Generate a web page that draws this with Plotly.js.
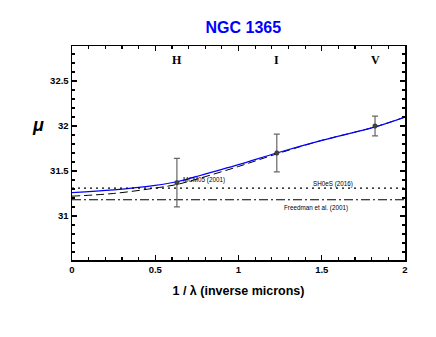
<!DOCTYPE html>
<html>
<head>
<meta charset="utf-8">
<script src="https://cdn.plot.ly/plotly-3.0.1.min.js"></script>
<style>
  html, body { margin: 0; padding: 0; background: #fff; }
  #chart { width: 436px; height: 337px; }
</style>
</head>
<body>
<div id="chart"></div>
<script>
// measured distance moduli per band
const bandNames = ["H", "I", "V"];
const invLambda = [0.63, 1.23, 1.82];
const mu = [31.37, 31.70, 32.00];
const muErr = [0.27, 0.21, 0.11];

// fitted extinction curves
const fitX = [0, 0.25, 0.5, 0.63, 0.75, 1.0, 1.23, 1.5, 1.82, 2.0];
const fitBlue = [31.26, 31.29, 31.34, 31.38, 31.44, 31.57, 31.70, 31.84, 31.99, 32.10];
const fitDashed = [31.22, 31.25, 31.31, 31.35, 31.41, 31.55, 31.69, 31.84, 31.99, 32.10];

// reference distances
const sh0esMu = 31.31;
const freedmanMu = 31.18;

const xRange = [0, 2];
const yRange = [30.51, 32.89];

const traces = [
  {
    x: fitX, y: fitDashed, mode: "lines", type: "scatter",
    line: { color: "#000", width: 1, dash: "8px,4px", shape: "spline" },
    hoverinfo: "skip"
  },
  {
    x: fitX, y: fitBlue, mode: "lines", type: "scatter",
    line: { color: "#0000ff", width: 1.2, shape: "spline" },
    hoverinfo: "skip"
  },
  {
    x: xRange, y: [sh0esMu, sh0esMu], mode: "lines", type: "scatter",
    line: { color: "#000", width: 1.2, dash: "2px,4px" }
  },
  {
    x: xRange, y: [freedmanMu, freedmanMu], mode: "lines", type: "scatter",
    line: { color: "#000", width: 1.2, dash: "9px,3px,2px,3px" }
  },
  {
    x: invLambda, y: mu, mode: "markers", type: "scatter",
    marker: { color: "#444", size: 4.5, line: { color: "#222", width: 0.5 } },
    error_y: { type: "data", array: muErr, visible: true, color: "#666", thickness: 1.2, width: 3 }
  }
];

const small = { family: "Liberation Sans, Arial", size: 6.3, color: "#000" };

const annotations = bandNames.map((b, i) => ({
  x: invLambda[i], y: 32.73, text: b, showarrow: false,
  font: { family: "Liberation Serif, Times New Roman", size: 12, color: "#000", weight: "bold" }
}));
annotations.push(
  { x: 1.57, y: 31.355, text: "SH0eS (2016)", showarrow: false, font: small },
  { x: 1.465, y: 31.09, text: "Freedman et al. (2001)", showarrow: false, font: small },
  { x: 0.655, y: 31.405, xanchor: "left", text: "MCM05 (2001)", showarrow: false, font: small },
  {
    xref: "paper", yref: "paper", x: -0.126, y: 0.687, text: "<i>μ</i>", showarrow: false,
    font: { family: "Liberation Sans, Arial", size: 18, color: "#000", weight: "bold" }
  }
);

const tickFont = { family: "Liberation Sans, Arial", size: 9.5, color: "#000", weight: "bold" };

Plotly.newPlot("chart", traces, {
  width: 436,
  height: 337,
  showlegend: false,
  paper_bgcolor: "#fff",
  plot_bgcolor: "#fff",
  margin: { l: 72, r: 31, t: 46, b: 77 },
  title: {
    text: "NGC 1365",
    x: 0.558, xanchor: "center", y: 0.92, yanchor: "middle",
    font: { family: "Liberation Sans, Arial", size: 16, color: "#0000ff", weight: "bold" }
  },
  xaxis: {
    range: xRange,
    tickvals: [0, 0.5, 1, 1.5, 2],
    ticktext: ["0", "0.5", "1", "1.5", "2"],
    ticks: "inside", ticklen: 5, tickwidth: 1.2, tickcolor: "#000",
    minor: { dtick: 0.1, ticks: "inside", ticklen: 3, tickcolor: "#000", showgrid: false },
    showline: true, linecolor: "#000", linewidth: 1.5, mirror: "allticks",
    showgrid: false, zeroline: false,
    tickfont: tickFont,
    title: {
      text: "1 / λ (inverse microns)",
      font: { family: "Liberation Sans, Arial", size: 12.5, color: "#000", weight: "bold" },
      standoff: 12
    }
  },
  yaxis: {
    range: yRange,
    tickvals: [31, 31.5, 32, 32.5],
    ticktext: ["31", "31.5", "32", "32.5"],
    ticks: "inside", ticklen: 5, tickwidth: 1.2, tickcolor: "#000",
    minor: { dtick: 0.1, ticks: "inside", ticklen: 3, tickcolor: "#000", showgrid: false },
    showline: true, linecolor: "#000", linewidth: 1.5, mirror: "allticks",
    showgrid: false, zeroline: false,
    tickfont: tickFont
  },
  annotations: annotations
}, { displayModeBar: false, staticPlot: true });
</script>
</body>
</html>
